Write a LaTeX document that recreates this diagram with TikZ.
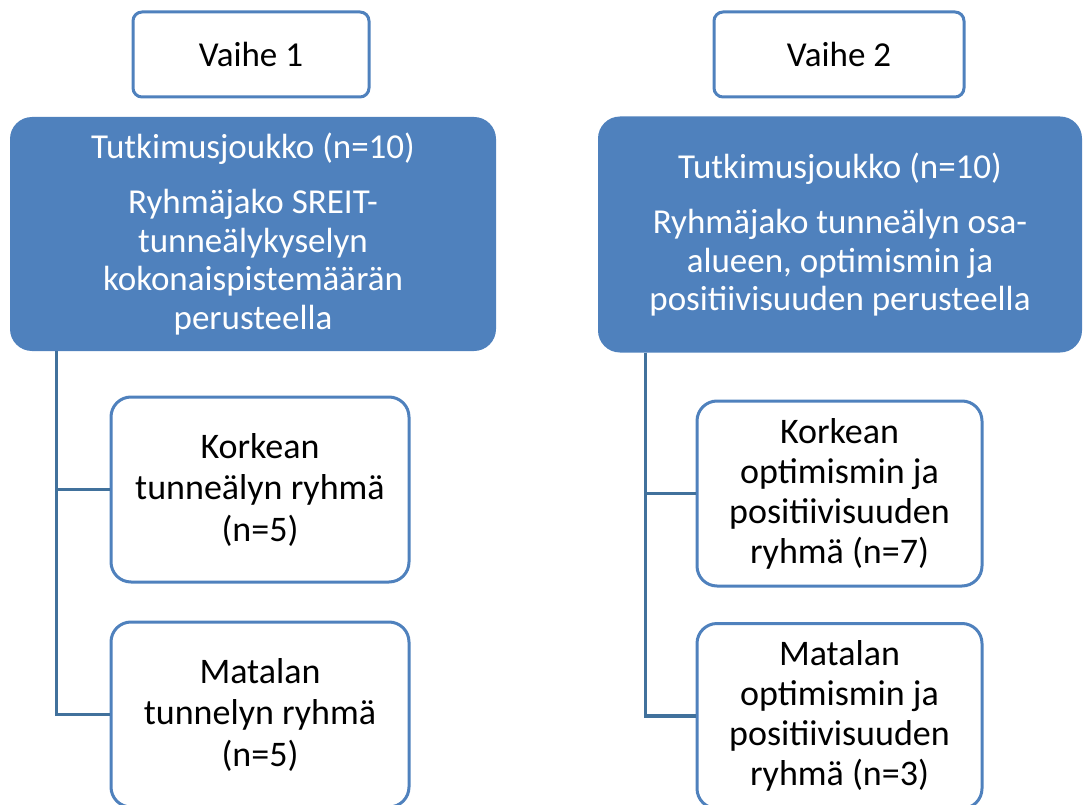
\documentclass[tikz,border=0pt]{standalone}
\usepackage{fontspec}
\setmainfont{Carlito}
\definecolor{accent}{HTML}{4F81BD}
\definecolor{conn}{HTML}{41719C}
\begin{document}
\begin{tikzpicture}[x=1pt,y=-1pt,
  phasebox/.style={draw=accent, line width=3pt, rounded corners=9pt, fill=white,
    minimum width=236pt, minimum height=85pt, inner sep=0pt,
    font=\fontsize{35}{40}\selectfont},
  topbox/.style={fill=accent, draw=none, rounded corners=22pt, text=white,
    minimum width=486pt, minimum height=234pt, inner sep=0pt, align=center,
    font=\fontsize{35}{38.5}\selectfont},
  childbox/.style={draw=accent, line width=3pt, rounded corners=20pt, fill=white,
    minimum width=298pt, minimum height=185pt, inner sep=0pt, align=center,
    font=\fontsize{36}{41.5}\selectfont},
  childboxr/.style={childbox, minimum width=285pt, font=\fontsize{36}{40}\selectfont},
  connector/.style={draw=conn, line width=3.2pt}]
\useasboundingbox (0,0) rectangle (1084,805);
% phase headers
\node[phasebox] (p1) at (251,54.5) {Vaihe 1};
\node[phasebox, minimum width=250pt] (p2) at (839,54.5) {Vaihe 2};
% top (blue) boxes
\node[topbox] (t1) at (253,234) {Tutkimusjoukko (n=10)\\[17pt]Ryhmäjako SREIT-\\tunneälykyselyn\\kokonaispistemäärän\\perusteella};
\node[topbox, minimum width=484pt, minimum height=236pt] (t2) at (840,234.5) {Tutkimusjoukko (n=10)\\[17pt]Ryhmäjako tunneälyn osa-\\alueen, optimismin ja\\positiivisuuden perusteella};
% child boxes
\node[childbox] (c11) at (260,489.5) {Korkean\\tunneälyn ryhmä\\(n=5)};
\node[childbox] (c12) at (260,714.5) {Matalan\\tunnelyn ryhmä\\(n=5)};
\node[childboxr] (c21) at (839.5,493.5) {Korkean\\optimismin ja\\positiivisuuden\\ryhmä (n=7)};
\node[childboxr] (c22) at (839.5,716) {Matalan\\optimismin ja\\positiivisuuden\\ryhmä (n=3)};
% connectors
\path (t1.south west) ++(47,0) coordinate (s1);
\path (t2.south west) ++(48,0) coordinate (s2);
\draw[connector] (s1) |- (c11.west);
\draw[connector] (s1) |- (c12.west);
\draw[connector] (s2) |- (c21.west);
\draw[connector] (s2) |- (c22.west);
\end{tikzpicture}
\end{document}
